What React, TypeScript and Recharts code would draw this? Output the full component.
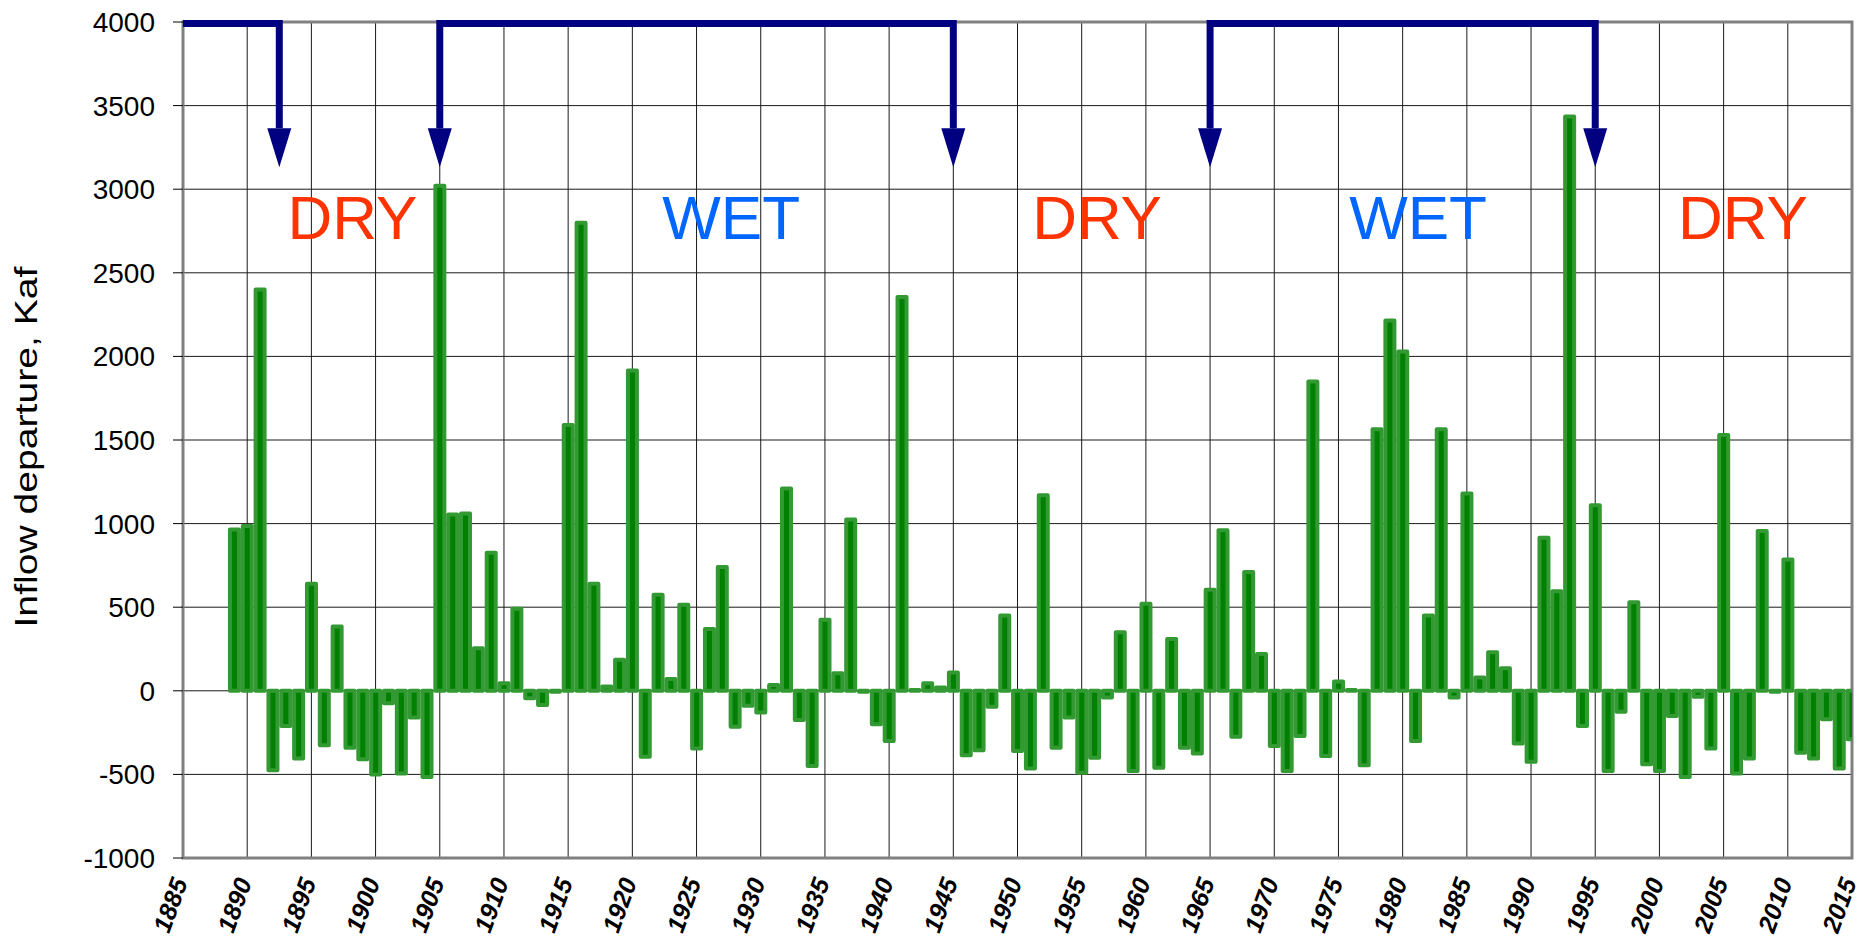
import React from "react";
import {
  BarChart,
  Bar,
  XAxis,
  YAxis,
  CartesianGrid,
  ReferenceArea,
  ReferenceLine,
  ReferenceDot,
} from "recharts";

const FIRST_YEAR = 1889;

// inflow departure per water year, Kaf (1889 .. 2015)
const departures = [
  965, 985, 2400, -475, -210, -405, 640, -325, 385, -340,
  -410, -500, -75, -495, -160, -515, 3020, 1055, 1060, 255,
  825, 45, 490, -45, -85, -5, 1590, 2800, 640, 25,
  185, 1915, -395, 575, 70, 515, -345, 370, 740, -215,
  -90, -130, 35, 1210, -175, -450, 425, 105, 1025, -5,
  -200, -300, 2355, 5, 45, 20, 110, -385, -355, -95,
  450, -360, -465, 1170, -340, -160, -490, -400, -40, 350,
  -480, 520, -460, 310, -340, -375, 605, 960, -275, 710,
  220, -330, -480, -270, 1850, -390, 55, 5, -445, 1565,
  2215, 2030, -300, 450, 1565, -40, 1180, 80, 230, 135,
  -315, -425, 915, 595, 3435, -210, 1110, -480, -125, 530,
  -440, -480, -150, -515, -35, -345, 1530, -495, -405, 955,
  -5, 785, -370, -405, -170, -465, -290,
];

const years = departures.map((_, i) => FIRST_YEAR + i);

const xTicks = [
  1885, 1890, 1895, 1900, 1905, 1910, 1915, 1920, 1925, 1930, 1935, 1940,
  1945, 1950, 1955, 1960, 1965, 1970, 1975, 1980, 1985, 1990, 1995, 2000,
  2005, 2010, 2015,
];
const yTicks = [-1000, -500, 0, 500, 1000, 1500, 2000, 2500, 3000, 3500, 4000];

// regime change arrows along the top
const bracketSpans = [
  [1885, 1892.5],
  [1905, 1945],
  [1965, 1995],
];
const arrowYears = [1892.5, 1905, 1945, 1965, 1995];
const ARROW_TOP = 4000;
const ARROW_BASE = 3365;

const regimeLabels = [
  { text: "DRY", year: 1898.2 },
  { text: "WET", year: 1927.7 },
  { text: "DRY", year: 1956.2 },
  { text: "WET", year: 1981.2 },
  { text: "DRY", year: 2006.5 },
];
const LABEL_LEVEL = 2700;

const data = years.map((year, i) => ({ year, value: departures[i] }));

const FONT = "'Liberation Sans', Arial, sans-serif";
const NAVY = "#000080";

function HorizontalBar(p: any) {
  return (
    <line
      x1={p.x1}
      x2={p.x2}
      y1={p.y1 + 1.5}
      y2={p.y2 + 1.5}
      stroke={NAVY}
      strokeWidth={7}
    />
  );
}

function DownArrow(p: any) {
  const x = p.x1;
  return (
    <g>
      <line x1={x} x2={x} y1={p.y1 - 2} y2={p.y2} stroke={NAVY} strokeWidth={7} />
      <polygon
        points={`${x - 12},${p.y2} ${x + 12},${p.y2} ${x},${p.y2 + 39}`}
        fill={NAVY}
      />
    </g>
  );
}

function YearTick(p: any) {
  const { x, y, payload } = p;
  return (
    <g transform={`translate(${x + 5},${y + 24})`}>
      <text
        transform="rotate(-70)"
        textAnchor="end"
        fontFamily={FONT}
        fontWeight="bold"
        fontStyle="italic"
        fontSize={25}
        fill="#000"
      >
        {payload.value}
      </text>
    </g>
  );
}

function AxisTitle(p: any) {
  const vb = p.viewBox;
  const cx = vb.x + 37;
  const cy = vb.y + vb.height / 2 + 7;
  return (
    <text
      x={cx}
      y={cy}
      transform={`rotate(-90 ${cx} ${cy})`}
      textAnchor="middle"
      fontFamily={FONT}
      fontSize={31}
      textLength={361}
      lengthAdjust="spacingAndGlyphs"
      fill="#000"
    >
      Inflow departure, Kaf
    </text>
  );
}

export default function App() {
  return (
    <div style={{ position: "absolute", left: 0, top: 0, background: "#fff" }}>
      <BarChart
        width={1864}
        height={940}
        data={data}
        margin={{ top: 22, right: 12, left: 0, bottom: 0 }}
      >
        <CartesianGrid stroke="#1a1a1a" strokeWidth={1} />
        <XAxis
          dataKey="year"
          type="number"
          domain={[1885, 2015]}
          ticks={xTicks}
          interval={0}
          allowDataOverflow
          height={82}
          axisLine={false}
          tickLine={false}
          tickSize={0}
          tickMargin={0}
          tick={<YearTick />}
        />
        <YAxis
          domain={[-1000, 4000]}
          ticks={yTicks}
          interval={0}
          width={183}
          axisLine={false}
          tickLine={{ stroke: "#000" }}
          tickSize={10}
          tickMargin={18}
          tick={{ fontFamily: FONT, fontSize: 28, fill: "#000" }}
          label={<AxisTitle />}
        />
        <ReferenceArea
          x1={1885}
          x2={2015}
          y1={-1000}
          y2={4000}
          fill="none"
          stroke="#808080"
          strokeWidth={3}
        />
        <Bar
          dataKey="value"
          barSize={9}
          fill="#008000"
          stroke="#339933"
          strokeWidth={4}
          strokeLinejoin="round"
          isAnimationActive={false}
        />
        {bracketSpans.map(([a, b], i) => (
          <ReferenceLine
            key={`h${i}`}
            segment={[
              { x: a, y: ARROW_TOP },
              { x: b, y: ARROW_TOP },
            ]}
            ifOverflow="visible"
            shape={HorizontalBar}
          />
        ))}
        {arrowYears.map((yr) => (
          <ReferenceLine
            key={`a${yr}`}
            segment={[
              { x: yr, y: ARROW_TOP },
              { x: yr, y: ARROW_BASE },
            ]}
            ifOverflow="visible"
            shape={DownArrow}
          />
        ))}
        {regimeLabels.map((l, i) => (
          <ReferenceDot
            key={`l${i}`}
            x={l.year}
            y={LABEL_LEVEL}
            r={0}
            ifOverflow="visible"
            shape={(p: any) => (
              <text
                x={p.cx}
                y={p.cy}
                textAnchor="middle"
                fontFamily={FONT}
                fontSize={62}
                fill={l.text === "DRY" ? "#FF3300" : "#0066FF"}
              >
                {l.text}
              </text>
            )}
          />
        ))}
      </BarChart>
    </div>
  );
}
